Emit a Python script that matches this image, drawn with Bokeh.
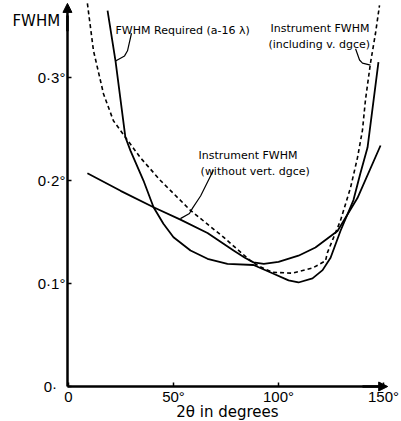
from bokeh.plotting import figure
from bokeh.models import Range1d, FixedTicker, Label, Arrow, NormalHead, LinearAxis
from bokeh.embed import file_html
from bokeh.resources import INLINE

# ---- data (2theta in degrees, FWHM in degrees) ----
req_x = [18.6, 22.4, 27.1, 29.5, 35.7, 40.5, 45.2, 50.0, 58.1, 66.2, 75.7, 88.1,
         97.1, 104.8, 109.5, 116.2, 121.0, 124.8, 129.5, 135.7, 139.0, 142.4, 147.6]
req_y = [0.365, 0.316, 0.242, 0.229, 0.200, 0.174, 0.158, 0.145, 0.132, 0.124, 0.119, 0.118,
         0.110, 0.103, 0.101, 0.105, 0.113, 0.125, 0.151, 0.181, 0.207, 0.232, 0.315]

incl_x = [9.0, 11.9, 16.7, 21.4, 27.1, 34.3, 43.8, 58.1, 73.8, 86.7, 90.5, 97.1,
          106.7, 116.2, 122.4, 123.3, 129.5, 134.3, 137.6, 140.0, 141.4, 143.8, 146.2, 148.1]
incl_y = [0.372, 0.326, 0.284, 0.258, 0.242, 0.222, 0.200, 0.171, 0.145, 0.122, 0.117, 0.111,
          0.110, 0.115, 0.122, 0.130, 0.161, 0.193, 0.222, 0.249, 0.278, 0.314, 0.343, 0.370]

without_x = [9.0, 24.8, 40.5, 53.3, 66.2, 78.6, 84.0, 88.1, 93.0, 100.0, 109.5, 117.6, 128.1, 137.6, 148.6]
without_y = [0.207, 0.190, 0.174, 0.162, 0.149, 0.132, 0.125, 0.1205, 0.119, 0.121, 0.127, 0.135, 0.151, 0.183, 0.234]

x_ticks = [0, 50, 100, 150]
x_tick_labels = ["0", "50°", "100°", "150°"]
y_ticks = [0, 0.1, 0.2, 0.3]
y_tick_labels = ["0·\u2007", "0·1°", "0·2°", "0·3°"]

# annotation leader lines
lead_req_x = [30.0, 28.1, 26.7, 22.4]
lead_req_y = [0.343, 0.326, 0.321, 0.316]
lead_incl_x = [136.7, 138.6, 140.0, 143.8]
lead_incl_y = [0.328, 0.317, 0.314, 0.312]
lead_wo_x = [69.0, 62.9, 59.0, 57.6, 53.3]
lead_wo_y = [0.210, 0.185, 0.173, 0.168, 0.163]

p = figure(width=400, height=420, output_backend="svg", toolbar_location=None,
           x_range=Range1d(-32.38, 158.1), y_range=Range1d(-0.0330, 0.3748),
           x_axis_type=None, y_axis_type=None,
           min_border_left=0, min_border_right=0, min_border_top=0, min_border_bottom=0)
p.outline_line_color = None
p.grid.visible = False
p.background_fill_color = "white"
p.border_fill_color = "white"

xax = LinearAxis(fixed_location=0)
yax = LinearAxis(fixed_location=-0.5)
p.add_layout(xax, "below")
p.add_layout(yax, "left")

for ax in (xax, yax):
    ax.axis_line_width = 2.5
    ax.axis_line_color = "black"
    ax.major_tick_in = 4
    ax.major_tick_out = 0
    ax.major_tick_line_width = 1.5
    ax.minor_tick_line_color = None
    ax.major_label_text_font = "Liberation Sans"
    ax.major_label_text_font_size = "15px"
    ax.major_label_text_color = "black"
    ax.major_label_standoff = 2
xax.major_label_standoff = 1

xax.ticker = FixedTicker(ticks=x_ticks)
xax.major_label_overrides = dict(zip(x_ticks, x_tick_labels))
xax.bounds = (-0.5, 150)
yax.ticker = FixedTicker(ticks=y_ticks)
yax.major_label_overrides = dict(zip(y_ticks, y_tick_labels))
yax.bounds = (0, 0.36)

# axis arrowheads
p.add_layout(Arrow(end=NormalHead(size=9, fill_color="black", line_color="black"),
                   x_start=-0.5, y_start=0.345, x_end=-0.5, y_end=0.372, line_width=2.5))
p.add_layout(Arrow(end=NormalHead(size=9, fill_color="black", line_color="black"),
                   x_start=140, y_start=0, x_end=152, y_end=0, line_width=2.5))

# curves
p.line(req_x, req_y, line_color="black", line_width=1.8)
p.line(without_x, without_y, line_color="black", line_width=1.8)
p.line(incl_x, incl_y, line_color="black", line_width=1.6, line_dash="4 3")

# leaders
for lx, ly in ((lead_req_x, lead_req_y), (lead_incl_x, lead_incl_y), (lead_wo_x, lead_wo_y)):
    p.line(lx, ly, line_color="black", line_width=1.2)

ann_font = "DejaVu Sans"
def lab(x, y, t, size="11px", align="left", font=ann_font):
    p.add_layout(Label(x=x, y=y, text=t, text_font=font, text_font_size=size,
                       text_color="black", text_align=align, text_baseline="alphabetic"))

lab(22.4, 0.3456, "FWHM Required (a-16 λ)")
lab(96.2, 0.3476, "Instrument FWHM")
lab(95.2, 0.332, "(including v. dgce)")
lab(61.9, 0.2243, "Instrument FWHM")
lab(62.9, 0.2087, "(without vert. dgce)")
lab(-26.7, 0.3553, "FWHM", size="15px")
lab(75.7, -0.0245, "2θ in degrees", size="15px", align="center")

open("out.html", "w").write(file_html(p, INLINE))
